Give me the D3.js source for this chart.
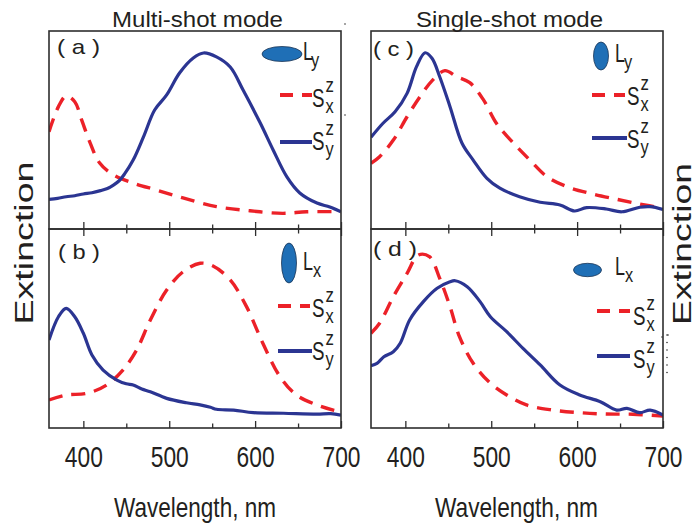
<!DOCTYPE html>
<html>
<head>
<meta charset="utf-8">
<script src="https://cdn.jsdelivr.net/npm/d3@7"></script>
<style>
  body { margin: 0; background: #fff; }
  svg { display: block; }
  text { font-family: "Liberation Sans", Arial, Helvetica, sans-serif; fill: #231f20; }
</style>
</head>
<body>
<svg id="chart" width="693" height="527"></svg>
<script>
// ---- data ------------------------------------------------------------
const xDomain = [360, 700];
const xTicks = [400, 500, 600, 700];
const xMinorTicks = [450, 550, 650];
const columnTitles = ["Multi-shot mode", "Single-shot mode"];
const panelLabels = ["( a )", "( b )", "( c )", "( d )"];
const axisLabelX = "Wavelength, nm";
const axisLabelY = "Extinction";
const polarisations = ["y", "x", "y", "x"];   // L subscript per panel

// (a) multi-shot, L_y
const aRedX  = [360, 371, 380, 390, 398, 408, 419, 435, 458, 485, 516, 555, 594, 632, 660, 700];
const aRedY  = [0.491, 0.618, 0.672, 0.643, 0.551, 0.434, 0.333, 0.273, 0.232, 0.197, 0.157, 0.113, 0.092, 0.079, 0.087, 0.087];
const aBlueX = [360, 370, 380, 390, 400, 410, 420, 428, 435, 442, 448, 458, 470, 483, 497, 512, 528, 540, 555, 571, 586, 606, 621, 637, 652, 672, 687, 700];
const aBlueY = [0.150, 0.155, 0.163, 0.168, 0.177, 0.183, 0.194, 0.205, 0.222, 0.245, 0.278, 0.348, 0.465, 0.601, 0.677, 0.788, 0.864, 0.889, 0.869, 0.818, 0.702, 0.535, 0.399, 0.263, 0.182, 0.131, 0.111, 0.087];

// (b) multi-shot, L_x
const bRedX  = [360, 380, 404, 427, 446, 462, 478, 497, 516, 536, 551, 571, 590, 609, 629, 648, 672, 691, 700];
const bRedY  = [0.141, 0.166, 0.174, 0.216, 0.291, 0.392, 0.543, 0.693, 0.785, 0.828, 0.814, 0.744, 0.610, 0.426, 0.258, 0.166, 0.116, 0.090, 0.082];
const bBlueX = [360, 371, 380, 390, 400, 410, 423, 439, 450, 458, 468, 478, 497, 520, 536, 548, 555, 575, 598, 633, 672, 688, 700];
const bBlueY = [0.442, 0.559, 0.601, 0.559, 0.476, 0.367, 0.291, 0.241, 0.222, 0.216, 0.196, 0.182, 0.149, 0.127, 0.116, 0.104, 0.094, 0.090, 0.077, 0.074, 0.070, 0.072, 0.065];

// (c) single-shot, L_y
const cRedX  = [360, 370, 386, 402, 417, 432, 446, 460, 475, 491, 506, 526, 545, 565, 588, 615, 646, 673, 700];
const cRedY  = [0.332, 0.365, 0.449, 0.567, 0.668, 0.753, 0.800, 0.769, 0.739, 0.652, 0.534, 0.433, 0.348, 0.264, 0.214, 0.180, 0.150, 0.126, 0.105];
const cBlueX = [360, 374, 388, 402, 413, 423, 431, 440, 452, 466, 479, 495, 510, 533, 557, 580, 597, 611, 634, 652, 673, 685, 700];
const cBlueY = [0.463, 0.534, 0.592, 0.685, 0.820, 0.890, 0.862, 0.769, 0.618, 0.433, 0.348, 0.256, 0.206, 0.163, 0.135, 0.121, 0.091, 0.108, 0.101, 0.087, 0.110, 0.113, 0.099];

// (d) single-shot, L_x
const dRedX  = [360, 370, 386, 402, 415, 428, 440, 452, 463, 479, 499, 518, 541, 572, 603, 634, 665, 700];
const dRedY  = [0.476, 0.526, 0.660, 0.777, 0.869, 0.861, 0.752, 0.610, 0.459, 0.325, 0.225, 0.166, 0.116, 0.090, 0.077, 0.070, 0.069, 0.060];
const dBlueX = [360, 367, 375, 386, 394, 405, 421, 437, 452, 458, 472, 487, 499, 518, 537, 557, 580, 603, 627, 646, 658, 673, 685, 700];
const dBlueY = [0.313, 0.325, 0.358, 0.383, 0.426, 0.543, 0.635, 0.702, 0.735, 0.740, 0.710, 0.635, 0.559, 0.484, 0.400, 0.317, 0.216, 0.166, 0.132, 0.090, 0.099, 0.077, 0.090, 0.065];

// ---- layout ----------------------------------------------------------
const BLUE = "#2b3592", RED = "#ec2128", FILL = "#1f6fb6", FRAME = "#2e2e2e";
const svg = d3.select("#chart");

const cols = [{ x0: 49, x1: 341 }, { x0: 371, x1: 663 }];
const rows = [{ y0: 31, y1: 229 }, { y0: 229, y1: 428 }];

const panels = [
  { col: 0, row: 0, red: [aRedX, aRedY], blue: [aBlueX, aBlueY], label: panelLabels[0], labelPos: [57, 54, 43, 21] },
  { col: 0, row: 1, red: [bRedX, bRedY], blue: [bBlueX, bBlueY], label: panelLabels[1], labelPos: [58, 259, 42, 21] },
  { col: 1, row: 0, red: [cRedX, cRedY], blue: [cBlueX, cBlueY], label: panelLabels[2], labelPos: [373, 56, 41, 20] },
  { col: 1, row: 1, red: [dRedX, dRedY], blue: [dBlueX, dBlueY], label: panelLabels[3], labelPos: [373, 256, 44, 21] }
];

// legend geometry per panel: marker ellipse, L label, then the two line samples
const legends = [
  { ell: [282, 54, 20, 7.5], L: [303, 60, 8], sx: [280, 312, 95, 312, 107], sy: [280, 312, 142, 312, 150] },
  { ell: [289, 263, 7.5, 20], L: [303, 270, 10], sx: [278, 310, 306, 312, 317], sy: [278, 312, 351, 312, 360] },
  { ell: [601, 56, 7.5, 14], L: [615, 62, 9], sx: [592, 625, 95, 627, 105], sy: [592, 627, 138, 627, 148] },
  { ell: [587.5, 270, 14, 6.7], L: [615, 275, 10], sx: [597, 630, 311, 633, 325], sy: [597, 630, 356, 633, 368] }
];

// condensed text helper
function ctext(g, x, y, s, size, sx = 0.76, anchor = "start") {
  return g.append("text")
    .attr("transform", `translate(${x},${y}) scale(${sx},1)`)
    .attr("font-size", size)
    .attr("text-anchor", anchor)
    .text(s);
}
function ltext(g, x, y, s, size, len, anchor = "middle") {
  return g.append("text")
    .attr("x", x).attr("y", y)
    .attr("font-size", size)
    .attr("text-anchor", anchor)
    .attr("textLength", len)
    .attr("lengthAdjust", "spacingAndGlyphs")
    .text(s);
}

const defs = svg.append("defs");

panels.forEach((p, i) => {
  const c = cols[p.col], r = rows[p.row];
  const x = d3.scaleLinear().domain(xDomain).range([c.x0, c.x1]);
  const y = d3.scaleLinear().domain([0, 1]).range([r.y1, r.y0]);

  defs.append("clipPath").attr("id", "clip" + i)
    .append("rect").attr("x", c.x0).attr("y", r.y0)
    .attr("width", c.x1 - c.x0).attr("height", r.y1 - r.y0);

  const g = svg.append("g");
  const line = d3.line().x(d => x(d[0])).y(d => y(d[1])).curve(d3.curveCatmullRom.alpha(0.5));
  const zip = ([xs, ys]) => xs.map((v, k) => [v, ys[k]]);

  const plot = g.append("g").attr("clip-path", `url(#clip${i})`);
  plot.append("path").datum(zip(p.red)).attr("d", line)
    .attr("fill", "none").attr("stroke", RED).attr("stroke-width", 3.4)
    .attr("stroke-dasharray", "14,9");
  plot.append("path").datum(zip(p.blue)).attr("d", line)
    .attr("fill", "none").attr("stroke", BLUE).attr("stroke-width", 3.2);

  // ticks: bottom axis on every panel, top axis inward on lower panels
  const bottomAxis = d3.axisBottom(x).tickValues(xTicks).tickSize(-7).tickFormat("");
  const bottomMinor = d3.axisBottom(x).tickValues(xMinorTicks).tickSize(-4.5).tickFormat("");
  [bottomAxis, bottomMinor].forEach(ax => {
    const a = g.append("g").attr("transform", `translate(0,${r.y1})`).call(ax);
    a.select(".domain").remove();
    a.selectAll("line").attr("stroke", FRAME).attr("stroke-width", 1.3);
  });
  if (p.row === 1) {
    const topAxis = d3.axisTop(x).tickValues(xTicks).tickSize(-7).tickFormat("");
    const topMinor = d3.axisTop(x).tickValues(xMinorTicks).tickSize(-4.5).tickFormat("");
    [topAxis, topMinor].forEach(ax => {
      const a = g.append("g").attr("transform", `translate(0,${r.y0})`).call(ax);
      a.select(".domain").remove();
      a.selectAll("line").attr("stroke", FRAME).attr("stroke-width", 1.3);
    });
    // tick labels
    const lab = g.append("g").attr("transform", `translate(0,${r.y1 + 39})`)
      .call(d3.axisBottom(x).tickValues(xTicks).tickSize(0).tickFormat(d3.format("d")));
    lab.select(".domain").remove();
    lab.selectAll("text").attr("y", 0).attr("dy", 0)
      .attr("font-size", 30)
      .attr("font-family", '"Liberation Sans", Arial, sans-serif')
      .attr("fill", "#231f20")
      .attr("textLength", 38).attr("lengthAdjust", "spacingAndGlyphs");
  }

  // frame
  g.append("rect").attr("x", c.x0).attr("y", r.y0)
    .attr("width", c.x1 - c.x0).attr("height", r.y1 - r.y0)
    .attr("fill", "none").attr("stroke", FRAME).attr("stroke-width", 1.6);

  // panel letter
  const [lx, ly, ll, ls] = p.labelPos;
  ltext(g, lx, ly, p.label, ls, ll, "start");

  // legend
  const L = legends[i];
  g.append("ellipse").attr("cx", L.ell[0]).attr("cy", L.ell[1])
    .attr("rx", L.ell[2]).attr("ry", L.ell[3])
    .attr("fill", FILL).attr("stroke", "#1b3556").attr("stroke-width", 0.8);
  ctext(g, L.L[0], L.L[1], "L", 25, 0.72);
  ctext(g, L.L[0] + L.L[2], L.L[1] + 7, polarisations[i], 21, 0.78);

  [["x", L.sx, RED, "13,9"], ["y", L.sy, BLUE, null]].forEach(([sub, s, col, dash]) => {
    const ln = g.append("line").attr("x1", s[0]).attr("x2", s[1]).attr("y1", s[2]).attr("y2", s[2])
      .attr("stroke", col).attr("stroke-width", 4);
    if (dash) ln.attr("stroke-dasharray", dash);
    ctext(g, s[3], s[4], "S", 26, 0.72);
    ctext(g, s[3] + 13.5, s[4] - 15, "z", 21, 0.8);
    ctext(g, s[3] + 13.5, s[4] + 6, sub, 21, 0.78);
  });
});

// column titles and axis titles
ltext(svg, 197.5, 27, columnTitles[0], 22, 171);
ltext(svg, 509.5, 27, columnTitles[1], 22, 187);
ltext(svg, 195, 517, axisLabelX, 28, 162);
ltext(svg, 516.5, 517, axisLabelX, 28, 163);

svg.append("text").attr("transform", "translate(33,243) rotate(-90)")
  .attr("font-size", 25).attr("text-anchor", "middle")
  .attr("textLength", 163).attr("lengthAdjust", "spacingAndGlyphs").text(axisLabelY);
svg.append("text").attr("transform", "translate(691,244) rotate(-90)")
  .attr("font-size", 25).attr("text-anchor", "middle")
  .attr("textLength", 162).attr("lengthAdjust", "spacingAndGlyphs").text(axisLabelY);

// small stray marks beside the frames
const dots = [[345, 24], [345, 115], [662, 337], [668, 335]];
d3.range(335, 376, 7.5).forEach(v => dots.push([667, v]));
svg.append("g").selectAll("circle").data(dots).join("circle")
  .attr("cx", d => d[0]).attr("cy", d => d[1]).attr("r", 0.8).attr("fill", "#333");
</script>
</body>
</html>
